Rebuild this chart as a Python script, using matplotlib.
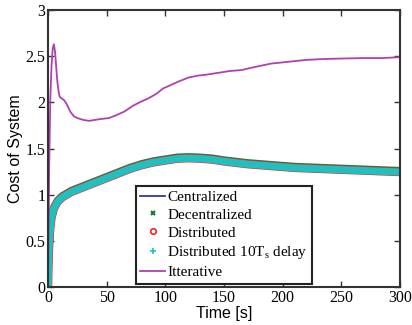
import numpy as np
import matplotlib
matplotlib.use("Agg")
import matplotlib.pyplot as plt
from matplotlib.lines import Line2D

# ---- data ----
t_main = [0, 0.5, 1, 2, 3, 5, 8, 12, 16, 20, 30, 40, 50, 60, 70, 80, 90, 100,
          110, 120, 130, 140, 150, 170, 190, 210, 230, 250, 270, 300]
centralized = [0, 0.30, 0.45, 0.65, 0.75, 0.85, 0.92, 0.97, 1.00, 1.03, 1.08, 1.13,
               1.18, 1.23, 1.28, 1.32, 1.35, 1.37, 1.39, 1.395, 1.39, 1.38, 1.36,
               1.33, 1.31, 1.29, 1.28, 1.27, 1.26, 1.245]
decentralized = [0, 0.31, 0.46, 0.665, 0.765, 0.865, 0.935, 0.985, 1.015, 1.045, 1.095,
                 1.145, 1.195, 1.245, 1.295, 1.335, 1.365, 1.385, 1.405, 1.41, 1.405,
                 1.395, 1.375, 1.345, 1.325, 1.305, 1.295, 1.285, 1.275, 1.26]
distributed = centralized
distributed_delay = centralized

t_iter = [0, 1, 2, 3, 4, 5, 6, 7, 8, 9, 10, 12, 14, 16, 19, 22, 25, 30, 35, 40, 45,
          52, 58, 65, 72, 78, 85, 92, 98, 105, 112, 120, 128, 135, 145, 155, 165,
          175, 190, 205, 220, 235, 250, 270, 285, 300]
iterative = [0, 1.30, 2.05, 2.40, 2.58, 2.63, 2.55, 2.38, 2.22, 2.12, 2.06, 2.04,
             2.02, 1.98, 1.90, 1.85, 1.83, 1.81, 1.80, 1.81, 1.82, 1.83, 1.86, 1.90,
             1.96, 2.00, 2.04, 2.09, 2.15, 2.19, 2.23, 2.27, 2.29, 2.30, 2.32, 2.34,
             2.35, 2.38, 2.42, 2.44, 2.46, 2.47, 2.475, 2.48, 2.48, 2.49]

labels = ["Centralized", "Decentralized", "Distributed",
          r"Distributed 10T$_\mathregular{s}$ delay", "Itterative"]
xticks = [0, 50, 100, 150, 200, 250, 300]
yticks = [0, 0.5, 1, 1.5, 2, 2.5, 3]

c_blue = "#2b3a9e"
c_green = "#1a8040"
c_red = "#ff2020"
c_cyan = "#20c0c0"
c_purple = "#b040b0"

plt.rcParams["mathtext.fontset"] = "custom"
plt.rcParams["mathtext.rm"] = "Liberation Serif"

fig = plt.figure(figsize=(4.12, 3.25), dpi=100)
ax = fig.add_axes([0.1165, 0.117, 0.8545, 0.852])

ax.plot(t_main, centralized, color=c_blue, lw=1)
ax.plot(t_main, decentralized, color=c_green, lw=5.4, solid_capstyle="butt")
ax.plot(t_main, distributed, color=c_red, lw=6.0, solid_capstyle="butt")
ax.plot(t_main, distributed_delay, color=c_cyan, lw=5.2, solid_capstyle="butt")
ax.plot(t_iter, iterative, color=c_purple, lw=1.3)

ax.set_xlim(0, 300)
ax.set_ylim(0, 3)
ax.set_xticks(xticks)
ax.set_yticks(yticks)
ax.set_xticklabels([str(v) for v in xticks], family="Liberation Serif", fontsize=11.5)
ax.set_yticklabels(["0", "0.5", "1", "1.5", "2", "2.5", "3"],
                   family="Liberation Serif", fontsize=11.5)
ax.tick_params(direction="in", top=True, right=True, length=4, width=1,
               color="#333333", pad=2)
for s in ax.spines.values():
    s.set_linewidth(1.5)
    s.set_color("#333333")

ax.set_xlabel("Time [s]", family="Liberation Sans", fontsize=11.5, labelpad=0)
ax.set_ylabel("Cost of System", family="Liberation Sans", fontsize=11.5, labelpad=2)

handles = [
    Line2D([], [], color=c_blue, lw=1.3),
    Line2D([], [], color=c_green, marker="x", ls="none", ms=3, mew=1.5),
    Line2D([], [], color=c_red, marker="o", ls="none", ms=4, mfc="none", mew=1.2),
    Line2D([], [], color=c_cyan, marker="+", ls="none", ms=4, mew=1.2),
    Line2D([], [], color=c_purple, lw=1.3),
]
leg = ax.legend(handles, labels, loc="lower center", bbox_to_anchor=(0.5, 0.012),
                prop={"family": "Liberation Serif", "size": 11},
                frameon=True, fancybox=False, framealpha=1, edgecolor="#222222",
                handlelength=1.6, handletextpad=0.15, labelspacing=0.28,
                borderpad=0.3, borderaxespad=0)
leg.get_frame().set_linewidth(1.5)

fig.savefig("out.png", dpi=100)
